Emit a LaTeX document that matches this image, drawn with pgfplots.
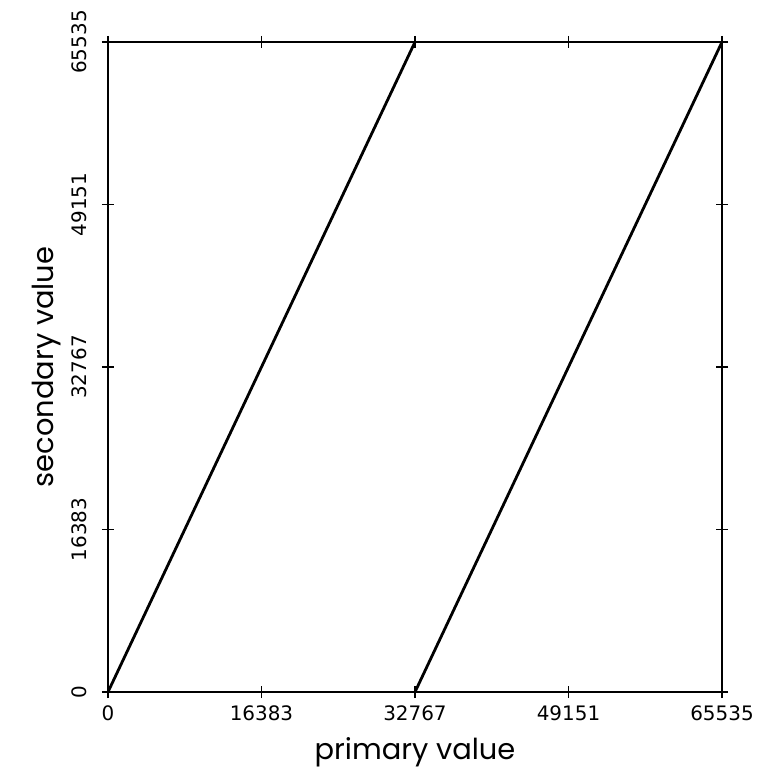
\documentclass[border=0pt]{standalone}
\usepackage{fontspec}
\setmainfont{Poppins}
\newfontfamily\tickfont{DejaVu Sans}
\usepackage{pgfplots}
\pgfplotsset{compat=1.18}
\begin{document}
\begin{tikzpicture}[x=1bp,y=1bp]
\path[use as bounding box] (-108,-86) rectangle (657,692);
\begin{axis}[
  at={(0,0)}, anchor=origin,
  scale only axis,
  width=614bp, height=650bp,
  xmin=0, xmax=65535, ymin=0, ymax=65535,
  xtick={0,16383,32767,49151,65535},
  ytick={0,16383,32767,49151,65535},
  xticklabels={0,16383,32767,49151,65535},
  yticklabels={0,16383,32767,49151,65535},
  scaled ticks=false,
  tick align=center,
  major tick length=12bp,
  tick style={line width=1.5bp, black},
  axis line style={line width=1.8bp},
  tick label style={font=\tickfont\fontsize{20}{24}\selectfont},
  yticklabel style={rotate=90, anchor=south, yshift=12bp},
  xticklabel style={yshift=-4bp},
  xlabel={primary value},
  ylabel={secondary value},
  label style={font=\fontsize{29}{34}\selectfont},
  xlabel style={yshift=-10bp},
  ylabel style={yshift=4bp},
  /pgf/number format/assume math mode=true,
]
\addplot[black, line width=2.8bp] coordinates {(0,0) (32767,65535)};
\addplot[black, line width=2.8bp] coordinates {(32767,0) (65535,65535)};
\end{axis}
\end{tikzpicture}
\end{document}
